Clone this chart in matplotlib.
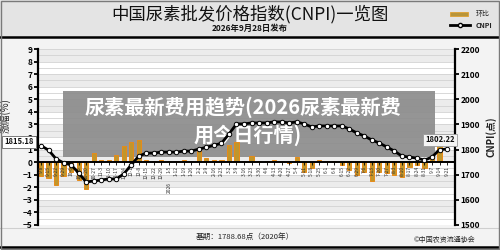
import matplotlib
matplotlib.use("Agg")
import matplotlib.pyplot as plt
from matplotlib.patches import Rectangle
from matplotlib.lines import Line2D
import numpy as np

plt.rcParams['font.family'] = ['Noto Sans CJK SC', 'DejaVu Sans']

# ---------------- data ----------------
week_labels = ["9-8", "9-15", "9-22", "9-29", "10-6", "10-13", "10-20", "10-27",
               "11-3", "11-10", "11-17", "11-24", "12-1", "12-8", "12-15", "12-22",
               "12-29", "1-5", "1-12", "1-19", "1-26", "2-2", "2-9", "2-16", "2-23",
               "3-2", "3-9", "3-16", "3-23", "3-30", "4-6", "4-13", "4-20", "4-27",
               "5-4", "5-11", "5-18", "5-25", "6-1", "6-8", "6-15", "6-22", "6-29",
               "7-6", "7-13", "7-20", "7-27", "8-3", "8-10", "8-17", "8-24", "8-31",
               "9-7", "9-14", "9-21"]

cnpi = [1815.18, 1798, 1763, 1747, 1739, 1707, 1671, 1675, 1679, 1683, 1683,
        1703, 1739, 1774, 1786, 1786, 1790, 1790, 1790, 1794, 1794, 1802, 1809,
        1817, 1825, 1862, 1902, 1902, 1906, 1906, 1906, 1910, 1910, 1906, 1910,
        1902, 1890, 1894, 1894, 1894, 1894, 1882, 1866, 1854, 1838, 1826, 1810,
        1794, 1774, 1770, 1766, 1758, 1770, 1800, 1802.22]

change_pct = [-1.1, -1.3, -1.8, -1.1, -0.8, -1.4, -2.1, 0.7, 0.2, 0.2, 0.6,
              1.3, 1.6, 1.8, 0.2, 0.1, 0.2, 0.1, 0.1, 0.2, 0.1, 0.9, 0.3,
              0.2, 0.2, 1.4, 1.6, 0.1, 0.5, 0.1, 0.1, 0.2, 0.1, -0.1, 0.4,
              -0.8, -0.5, 0.2, 0.1, 0.1, -0.2, -0.6, -1.0, -0.8, -1.5, -0.8, -0.9,
              -1.0, -1.2, -0.4, -0.2, -0.5, 0.5, 1.6, 0.1]

year_mark_idx = 17
year_mark = "2026"

x = np.arange(len(cnpi))

# ---------------- figure ----------------
fig = plt.figure(figsize=(5, 2.5), dpi=100, facecolor="#f3f3f3")

# header band + frame
fig.patches.append(Rectangle((0, 0.852), 1, 0.148, transform=fig.transFigure,
                             facecolor="#e4e4e4", edgecolor="none", zorder=0))
fig.patches.append(Rectangle((0.002, 0.004), 0.996, 0.992, transform=fig.transFigure,
                             facecolor="none", edgecolor="#7a7a7a", lw=1.0, zorder=10))
fig.add_artist(Line2D([0, 1], [0.852, 0.852], color="black", lw=1.8))
fig.add_artist(Line2D([0, 1], [0.012, 0.012], color="black", lw=1.8))
fig.add_artist(Line2D([0, 1], [0.088, 0.088], color="#cfcfcf", lw=0.8))

fig.text(0.5, 0.945, "中国尿素批发价格指数(CNPI)一览图", ha="center", va="center",
         fontsize=12.5, color="#111111")
fig.text(0.5, 0.888, "2026年9月28日发布", ha="center", va="center",
         fontsize=6, fontweight="bold", color="#111111")

# legend (manual)
fig.patches.append(Rectangle((0.9, 0.936), 0.036, 0.016, transform=fig.transFigure,
                             facecolor="#b8953a", edgecolor="#e0a030", lw=0.6))
fig.text(0.952, 0.944, "环比", fontsize=5, va="center", color="#222222")
fig.add_artist(Line2D([0.9, 0.94], [0.9, 0.9], color="black", lw=2))
fig.add_artist(Line2D([0.92], [0.9], marker="o", color="black", markersize=3,
                      markerfacecolor="white"))
fig.text(0.952, 0.9, "CNPI", fontsize=5, va="center", fontweight="bold",
         color="#222222")

ax = fig.add_axes([0.076, 0.1, 0.834, 0.704])
ax.set_facecolor("white")
ax.set_xlim(-0.4, len(cnpi) - 1 + 1.06)
ax.set_ylim(-5, 9)

# striped background
for k in range(-5, 9):
    if k % 2 == 0:
        ax.axhspan(k, k + 1, color="#ececec", lw=0, zorder=0)
for g in np.arange(-5, 9.01, 0.5):
    ax.axhline(g, color="#d2d2d2", lw=0.6, zorder=0.5)

# overlay box (watermark title)
ax.add_patch(Rectangle((0.126, 0.372), 0.744, 0.264, transform=fig.transFigure,
                       facecolor="#8c8c8c", edgecolor="none", alpha=0.92,
                       zorder=1, clip_on=False))
ax.text(0.485, 0.572, "尿素最新费用趋势(2026尿素最新费", transform=fig.transFigure,
        ha="center", va="center", fontsize=14.5, fontweight="bold",
        color="white", zorder=1.5)
ax.text(0.495, 0.46, "用今日行情)", transform=fig.transFigure,
        ha="center", va="center", fontsize=14.5, fontweight="bold",
        color="white", zorder=1.5)

ax.bar(x, change_pct, width=0.55, color="#c0962c", edgecolor="#e88a18",
       lw=0.7, zorder=2)
ax.axhline(0, color="black", lw=1.4, zorder=3)
ax.vlines(x, -0.25, 0, color="black", lw=0.6, zorder=3)
for i, lab in enumerate(week_labels):
    ax.text(x[i], -0.3, lab, rotation=90, ha="center", va="top",
            fontsize=3.6, color="#333333", zorder=3)
ax.text(x[year_mark_idx], -1.55, year_mark, rotation=90, ha="center", va="top",
        fontsize=3.6, color="#333333", zorder=3)

ax.set_yticks(range(-5, 10))
ax.set_xticks([])
for s in ["top", "bottom", "right"]:
    ax.spines[s].set_visible(False)
ax.spines["left"].set_linewidth(1.6)
ax.tick_params(axis="y", direction="out", length=3, width=1.3, pad=1,
               labelsize=6)
for t in ax.get_yticklabels():
    t.set_fontweight("bold")
ax.set_ylabel("涨幅(%)", fontsize=7, labelpad=2, color="#222222")
ax.yaxis.set_label_coords(-0.065, 0.62)

ax2 = ax.twinx()
ax2.set_ylim(1500, 2200)
ax2.plot(x, cnpi, color="black", lw=2, marker="o", markersize=3.2,
         markerfacecolor="white", markeredgecolor="black",
         markeredgewidth=0.7, zorder=5)
ax2.set_yticks(range(1500, 2201, 100))
for s in ["top", "bottom", "left"]:
    ax2.spines[s].set_visible(False)
ax2.spines["right"].set_linewidth(1.6)
ax2.tick_params(axis="y", direction="out", length=3, width=1.3, pad=1,
                labelsize=6)
for t in ax2.get_yticklabels():
    t.set_fontweight("bold")
ax2.set_ylabel("CNPI(点)", fontsize=7, fontweight="bold", labelpad=4,
               color="#222222")

# value labels
fig.text(0.038, 0.432, f"{cnpi[0]:.2f}", ha="center", va="center", fontsize=5.5,
         fontweight="bold", color="#111111", zorder=20,
         bbox=dict(boxstyle="square,pad=0.25", facecolor="white",
                   edgecolor="#666666", lw=0.6))
fig.text(0.88, 0.44, f"{cnpi[-1]:.2f}", ha="center", va="center", fontsize=5.5,
         fontweight="bold", color="#111111", zorder=20,
         bbox=dict(boxstyle="square,pad=0.25", facecolor="#f4f4f4",
                   edgecolor="#999999", lw=0.6))

# footer
fig.text(0.49, 0.052, "基期：1788.68点（2020年）", ha="center", va="center",
         fontsize=5.5, color="#222222")
fig.text(0.89, 0.042, "©中国农资流通协会", ha="center", va="center",
         fontsize=5, color="#222222")

fig.savefig("out.png", dpi=100, facecolor=fig.get_facecolor())
